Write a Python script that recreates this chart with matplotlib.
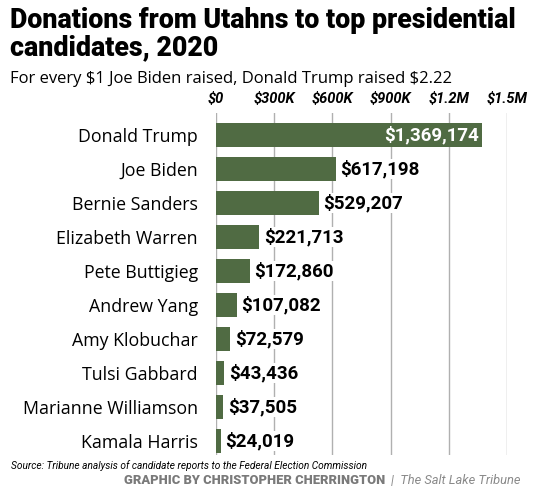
import matplotlib
matplotlib.use('Agg')
import matplotlib.pyplot as plt
from matplotlib.ticker import FixedLocator

plt.rcParams['text.parse_math'] = False

# datos
candidatos = ["Donald Trump", "Joe Biden", "Bernie Sanders", "Elizabeth Warren",
              "Pete Buttigieg", "Andrew Yang", "Amy Klobuchar", "Tulsi Gabbard",
              "Marianne Williamson", "Kamala Harris"]
donaciones = [1369174, 617198, 529207, 221713, 172860, 107082, 72579, 43436, 37505, 24019]
ticks = [0, 300000, 600000, 900000, 1200000, 1500000]
etiquetas_ticks = ["$0", "$300K", "$600K", "$900K", "$1.2M", "$1.5M"]

verde = "#506b43"
narrow = ["Roboto", "DejaVu Sans"]

fig = plt.figure(figsize=(5.45, 5.0), dpi=100)
ax = fig.add_axes([216 / 545, 1 - 455 / 500, (507 - 216) / 545, (455 - 113) / 500])

pos = list(range(len(candidatos)))
barras = ax.barh(pos, donaciones, height=0.71, color=verde, zorder=2)

for i, (barra, v) in enumerate(zip(barras, donaciones)):
    txt = f"${v:,}"
    if i == 0:
        ax.text(v - 15000, i, txt, ha='right', va='center', color='white',
                fontsize=13.5, fontweight='bold', family=narrow, zorder=3)
    else:
        ax.text(v + 25000, i, txt, ha='left', va='center', color='black',
                fontsize=13.5, fontweight='bold', family=narrow, zorder=3,
                bbox=dict(facecolor='white', edgecolor='none', pad=0.5))

ax.set_xlim(0, 1500000)
ax.set_ylim(9.41, -0.647)
ax.xaxis.set_major_locator(FixedLocator(ticks))
ax.set_xticklabels(etiquetas_ticks, fontsize=10.5, fontweight='bold', style='italic', family=narrow)
ax.xaxis.tick_top()
ax.tick_params(axis='x', length=0, pad=5)
ax.set_yticks(pos)
ax.set_yticklabels(candidatos, fontsize=12.8, family="Open Sans")
ax.tick_params(axis='y', length=0, pad=13)
ax.grid(axis='x', color='#b0b0b0', linewidth=1, zorder=0)
for s in ax.spines.values():
    s.set_visible(False)

fig.text(0.018, 1 - 34 / 500, "Donations from Utahns to top presidential\ncandidates, 2020",
         fontsize=19.3, fontweight='black', family="Roboto", va='center', ha='left',
         linespacing=1.0)
fig.text(0.018, 1 - 79 / 500, "For every $1 Joe Biden raised, Donald Trump raised $2.22",
         fontsize=12, family="Open Sans", va='center', ha='left')
fig.text(0.02, 1 - 466 / 500, "Source: Tribune analysis of candidate reports to the Federal Election Commission",
         fontsize=7.3, style='italic', family=narrow, va='center', ha='left')
fig.text(0.707, 1 - 481 / 500, "GRAPHIC BY CHRISTOPHER CHERRINGTON",
         fontsize=9.3, fontweight='black', color='#7a7a7a', family="Roboto", va='center', ha='right')
fig.text(0.718, 1 - 481 / 500, "|  The Salt Lake Tribune",
         fontsize=9.3, style='italic', color='#8a8a8a', family=narrow, va='center', ha='left')

plt.savefig("out.png", dpi=100)
